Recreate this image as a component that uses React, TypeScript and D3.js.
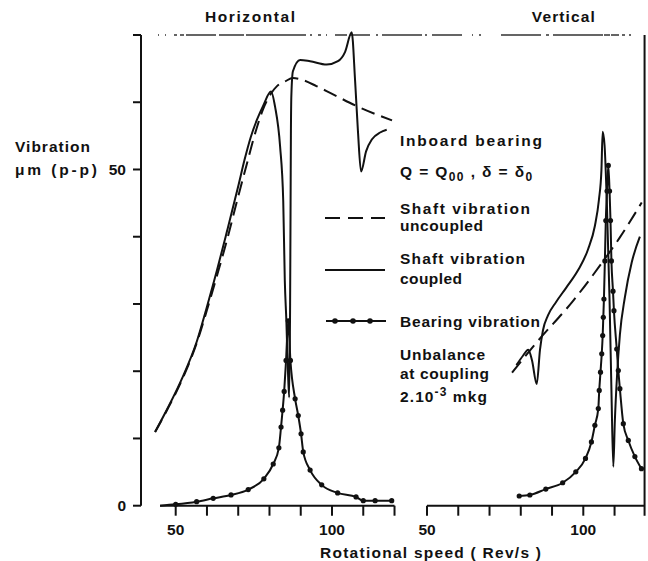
import React from 'react';
import * as d3 from 'd3';

// ---- data (speed in Rev/s, vibration in µm p-p) ----
const SPEED_TICKS_H = [50, 60, 70, 80, 90, 100, 110, 120];
const SPEED_TICKS_V = [50, 60, 70, 80, 90, 100, 110];
const SPEED_LABELS = [50, 100];
const AMP_TICKS = [0, 10, 20, 30, 40, 50, 60, 70];
const AMP_LABELS = [0, 50];
const PANEL_TITLES = ['Horizontal', 'Vertical'];

const H_UNCOUPLED: [number, number][] = [
  [43.4, 10.96], [47.2, 14.2], [52.0, 18.7], [56.8, 24.3], [60.0, 29.1], [63.2, 34.2],
  [66.4, 39.5], [69.6, 45.3], [72.8, 50.9], [75.05, 54.8], [77.9, 58.9], [80.5, 61.3],
  [82.4, 62.4], [85.0, 63.1], [87.5, 63.6], [90.7, 63.3], [95.0, 62.4], [99.4, 61.4],
  [108.0, 59.4], [119.2, 57.3],
];
const H_COUPLED: [number, number][] = [
  [43.4, 10.96], [47.2, 14.3], [52.0, 18.9], [56.8, 24.5], [60.0, 29.6], [63.2, 35.0],
  [66.4, 40.8], [70.0, 47.5], [72.0, 51.4], [74.0, 54.8], [76.0, 57.4], [78.0, 59.5],
  [80.5, 61.6],
  [81.8, 59.3], [83.4, 53.4], [84.4, 45.3], [84.9, 33.5], [85.4, 27.5], [85.9, 20.1],
  [86.3, 16.1], [86.6, 30.0], [86.75, 45.0], [86.85, 55.0], [87.0, 61.0], [87.5, 64.6],
  [89.8, 66.3], [93.0, 66.1], [98.3, 65.6], [101.9, 66.1], [104.2, 67.5], [106.3, 70.4],
  [107.4, 63.1], [108.3, 55.7], [109.3, 49.7], [110.9, 52.7], [112.8, 54.5], [115.4, 55.5],
  [117.5, 55.9],
];
const H_BEARING: [number, number][] = [
  [45.0, 0.0], [50.0, 0.2], [56.7, 0.6], [62.0, 1.1], [67.7, 1.6], [73.2, 2.4], [78.2, 4.0],
  [81.2, 6.2], [83.0, 8.6], [83.7, 11.7], [84.2, 14.2], [84.7, 17.0], [85.3, 21.6],
  [86.0, 27.5], [86.7, 21.6], [88.2, 15.9], [89.2, 13.4], [90.1, 10.7], [90.8, 8.0],
  [93.0, 5.3], [96.7, 3.1], [101.8, 1.9], [107.7, 1.3], [110.0, 0.74], [113.8, 0.74],
  [119.1, 0.74],
];
const V_UNCOUPLED: [number, number][] = [
  [77.2, 19.8], [85.1, 24.3], [96.8, 30.5], [106.4, 36.4], [111.7, 39.9], [118.7, 45.1],
];
const V_COUPLED: [number, number][] = [
  [78.6, 20.9], [80.7, 22.3], [82.4, 23.2], [83.6, 21.6], [85.1, 18.1], [86.15, 23.2],
  [87.1, 26.1], [88.7, 28.3], [91.3, 30.3], [94.5, 32.4], [98.3, 35.0], [101.5, 38.1],
  [103.7, 41.6], [105.0, 45.5], [105.8, 49.9], [106.2, 55.6],
  [106.8, 53.6], [107.6, 44.0], [108.4, 30.6], [109.0, 17.2], [109.6, 5.8],
  [110.1, 12.7], [110.8, 19.4], [111.7, 25.4], [113.3, 31.0], [115.5, 36.2], [118.1, 40.0],
];
const V_BEARING: [number, number][] = [
  [79.5, 1.44], [82.9, 1.59], [88.0, 2.47], [93.4, 3.41], [97.6, 5.04], [100.7, 7.03],
  [102.6, 9.49], [103.7, 11.96], [104.8, 14.44], [105.1, 17.15], [105.5, 19.86],
  [105.9, 22.59], [106.2, 25.3], [106.4, 28.02], [106.6, 30.74], [106.9, 36.4],
  [107.2, 42.4], [107.6, 46.8], [108.0, 50.6], [108.4, 46.8], [108.7, 42.4], [109.0, 36.4],
  [109.5, 31.9], [109.8, 29.0], [110.7, 23.3], [111.2, 20.1], [111.7, 17.4], [112.8, 12.2],
  [114.4, 9.7], [116.5, 7.3], [118.6, 5.5],
];

const FONT = '"Liberation Sans", Arial, sans-serif';
const INK = '#111';

export default function App() {
  const y = d3.scaleLinear().domain([0, 70]).range([505.7, 35]);
  const xL = d3.scaleLinear().domain([50, 100]).range([175.7, 332]);
  const xR = d3.scaleLinear().domain([50, 100]).range([427, 583.3]);
  const yAxisX = 141;
  const baseY = y(0);
  const rightEnd = 119.6;

  const mk = (xs: d3.ScaleLinear<number, number>) =>
    d3.line<[number, number]>().x(d => xs(d[0])).y(d => y(d[1])).curve(d3.curveMonotoneX);
  const lineL = mk(xL);
  const lineR = mk(xR);

  const txt = { fontFamily: FONT, fontWeight: 700, fill: INK } as const;
  const FS = 15.5;

  return (
    <svg width={648} height={561} style={{ position: 'absolute', left: 0, top: 0, background: '#fff' }}>
      <rect width={648} height={561} fill="#fff" />
      {/* titles */}
      <text x={250} y={22} textAnchor="middle" fontSize={FS} textLength={90} lengthAdjust="spacing" style={txt}>{PANEL_TITLES[0]}</text>
      <text x={563.3} y={22} textAnchor="middle" fontSize={FS} textLength={63} lengthAdjust="spacing" style={txt}>{PANEL_TITLES[1]}</text>

      {/* top border (broken, as scanned) */}
      <line x1={158} x2={xR(rightEnd)} y1={35} y2={35} stroke="#333" strokeWidth={1.6}
        strokeDasharray="1 6 1 8 3 3 4 2 30 3 25 2 60 4 2 6 3 5 1 8 12 3 20 6 2 4 40 3 2 5 30 10 1 6 2 20 40 5 3 4 50" />

      {/* y axis */}
      <line x1={yAxisX} x2={yAxisX} y1={y(70)} y2={baseY} stroke={INK} strokeWidth={2} />
      {AMP_TICKS.map(t => (
        <line key={t} x1={yAxisX - 8} x2={yAxisX} y1={y(t)} y2={y(t)} stroke={INK} strokeWidth={2} />
      ))}
      {AMP_LABELS.map(t => (
        <text key={t} x={126} y={y(t) + 5.5} textAnchor="end" fontSize={FS} style={txt}>{t}</text>
      ))}
      <text x={15} y={152} fontSize={FS} textLength={75} lengthAdjust="spacing" style={txt}>Vibration</text>
      <text x={15} y={175} fontSize={FS} textLength={82} lengthAdjust="spacing" style={txt}>μm (p-p)</text>

      {/* x axis left */}
      <line x1={xL(45)} x2={xL(120)} y1={baseY} y2={baseY} stroke={INK} strokeWidth={2} />
      {SPEED_TICKS_H.map(t => (
        <line key={t} x1={xL(t)} x2={xL(t)} y1={baseY} y2={baseY + 10} stroke={INK} strokeWidth={2} />
      ))}
      {SPEED_LABELS.map(t => (
        <text key={t} x={xL(t)} y={535} textAnchor="middle" fontSize={FS} style={txt}>{t}</text>
      ))}

      {/* x axis right */}
      <line x1={xR(50)} x2={xR(rightEnd)} y1={baseY} y2={baseY} stroke={INK} strokeWidth={2} />
      {SPEED_TICKS_V.map(t => (
        <line key={t} x1={xR(t)} x2={xR(t)} y1={baseY} y2={baseY + 10} stroke={INK} strokeWidth={2} />
      ))}
      <line x1={xR(rightEnd)} x2={xR(rightEnd)} y1={35} y2={baseY + 10} stroke={INK} strokeWidth={2} />
      {SPEED_LABELS.map(t => (
        <text key={t} x={xR(t)} y={535} textAnchor="middle" fontSize={FS} style={txt}>{t}</text>
      ))}
      <text x={320} y={558} fontSize={FS} textLength={221} lengthAdjust="spacing" style={txt}>Rotational speed ( Rev/s )</text>

      {/* horizontal panel curves */}
      <path d={lineL(H_UNCOUPLED) || ''} fill="none" stroke={INK} strokeWidth={2} strokeDasharray="14 7" />
      <path d={lineL(H_COUPLED) || ''} fill="none" stroke={INK} strokeWidth={2} />
      <path d={lineL(H_BEARING) || ''} fill="none" stroke={INK} strokeWidth={2} />
      {H_BEARING.slice(1).map((d, i) => (
        <circle key={i} cx={xL(d[0])} cy={y(d[1])} r={2.6} fill={INK} />
      ))}

      {/* vertical panel curves */}
      <path d={lineR(V_UNCOUPLED) || ''} fill="none" stroke={INK} strokeWidth={2} strokeDasharray="14 7" />
      <path d={lineR(V_COUPLED) || ''} fill="none" stroke={INK} strokeWidth={2} />
      <path d={lineR(V_BEARING) || ''} fill="none" stroke={INK} strokeWidth={2} />
      {V_BEARING.map((d, i) => (
        <circle key={i} cx={xR(d[0])} cy={y(d[1])} r={2.6} fill={INK} />
      ))}

      {/* legend / annotations */}
      <text x={400} y={145.5} fontSize={FS} textLength={142} lengthAdjust="spacing" style={txt}>Inboard bearing</text>
      <text x={400} y={177} fontSize={FS} letterSpacing={1.4} style={txt}>
        <tspan>Q = Q</tspan>
        <tspan dy={4} fontSize={12}>00</tspan>
        <tspan dy={-4}> ,  δ = δ</tspan>
        <tspan dy={4} fontSize={12}>0</tspan>
      </text>
      <line x1={325} x2={385} y1={218} y2={218} stroke={INK} strokeWidth={2} strokeDasharray="15 8" />
      <text x={400} y={214} fontSize={FS} textLength={130} lengthAdjust="spacing" style={txt}>Shaft vibration</text>
      <text x={400} y={231} fontSize={FS} textLength={83} lengthAdjust="spacing" style={txt}>uncoupled</text>
      <line x1={325} x2={385} y1={270} y2={270} stroke={INK} strokeWidth={2} />
      <text x={400} y={264} fontSize={FS} textLength={125} lengthAdjust="spacing" style={txt}>Shaft vibration</text>
      <text x={400} y={284} fontSize={FS} textLength={62} lengthAdjust="spacing" style={txt}>coupled</text>
      <line x1={326} x2={386} y1={321} y2={321} stroke={INK} strokeWidth={2} />
      {[335, 353, 370].map(cx => <circle key={cx} cx={cx} cy={321} r={2.8} fill={INK} />)}
      <text x={400} y={327} fontSize={FS} textLength={140} lengthAdjust="spacing" style={txt}>Bearing vibration</text>
      <text x={400} y={360} fontSize={FS} textLength={85} lengthAdjust="spacing" style={txt}>Unbalance</text>
      <text x={400} y={379} fontSize={FS} textLength={89} lengthAdjust="spacing" style={txt}>at coupling</text>
      <text x={400} y={402} fontSize={FS} letterSpacing={1.1} style={txt}>
        <tspan>2.10</tspan>
        <tspan dy={-6} fontSize={12}>-3</tspan>
        <tspan dy={6}> mkg</tspan>
      </text>
    </svg>
  );
}
